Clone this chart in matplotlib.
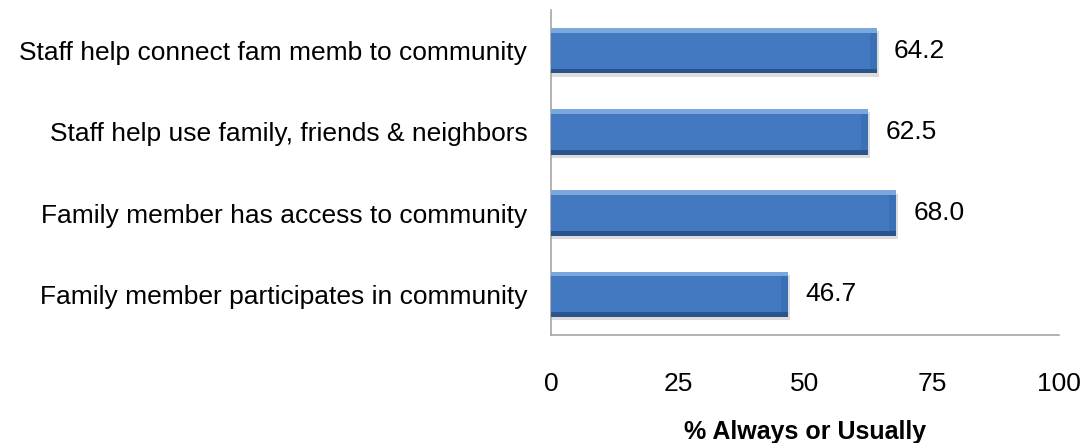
import matplotlib
matplotlib.use("Agg")
import matplotlib.pyplot as plt

categories = [
    "Staff help connect fam memb to community",
    "Staff help use family, friends & neighbors",
    "Family member has access to community",
    "Family member participates in community",
]
values = [64.2, 62.5, 68.0, 46.7]
x_ticks = [0, 25, 50, 75, 100]
x_label = "% Always or Usually"

plt.rcParams["font.family"] = ["Liberation Sans", "DejaVu Sans"]

fig = plt.figure(figsize=(10.88, 4.43), dpi=100)
ax = fig.add_axes([0.5064, 0.2438, 0.4669, 0.7336])

pos = list(range(len(categories)))
h = 0.56

# soft shadow, main bar, then bevel strips
ax.barh([p + 0.04 for p in pos], [v + 0.4 for v in values], height=h,
        color="#bbbbbb", alpha=0.5, zorder=1)
ax.barh(pos, values, height=h, color="#3a70b5", zorder=2)
ax.barh([p - h / 2 + 0.03 for p in pos], values, height=0.06,
        color="#7aa7dc", zorder=3)
ax.barh([p + h / 2 - 0.03 for p in pos], values, height=0.06,
        color="#2b548c", zorder=3)
ax.barh(pos, [v - 1.4 for v in values], left=0, height=h - 0.12,
        color="#4279c0", zorder=3)

for p, v in zip(pos, values):
    ax.text(v + 3.3, p, f"{v:.1f}", va="center", ha="left", fontsize=19,
            color="#000000")

ax.set_xlim(0, 100)
ax.set_ylim(len(categories) - 0.5, -0.5)
ax.set_xticks(x_ticks)
ax.set_yticks(pos)
ax.set_yticklabels(categories)
ax.tick_params(axis="y", length=0, pad=17, labelsize=19)
ax.tick_params(axis="x", length=0, pad=27, labelsize=19)
ax.set_xlabel(x_label, fontsize=18, fontweight="bold", labelpad=17)

for s in ["top", "right"]:
    ax.spines[s].set_visible(False)
for s in ["left", "bottom"]:
    ax.spines[s].set_color("#a6a6a6")
    ax.spines[s].set_linewidth(1.2)

fig.savefig("out.png", dpi=100)
